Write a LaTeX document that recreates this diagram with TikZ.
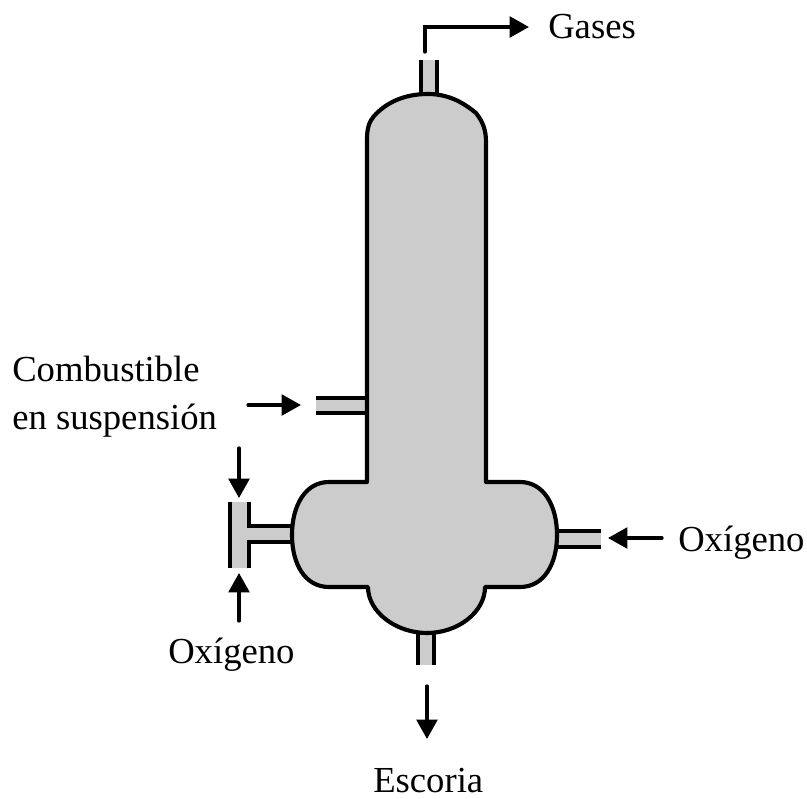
\documentclass[tikz,border=0pt]{standalone}
\usepackage{fontspec}
\setmainfont{Liberation Serif}
\usetikzlibrary{arrows.meta}
\definecolor{vesselgray}{gray}{0.8}
\tikzset{
  wall/.style={line width=3.1pt,line cap=butt,line join=miter},
  vessel/.style={wall,fill=vesselgray,line join=round},
  pipefill/.style={fill=vesselgray,draw=none},
  flow/.style={line width=2.5pt,line cap=round,line join=miter,-{Triangle[length=14.5pt,width=15.5pt]}},
  lab/.style={font=\fontsize{27.5pt}{32pt}\selectfont,inner sep=0pt,anchor=base west},
}
\begin{document}
\begin{tikzpicture}[x=0.75pt,y=-0.75pt]
\useasboundingbox (0,0) rectangle (807,799);
% pipes
\fill[pipefill] (421,60) rectangle (437,100);
\draw[wall] (421,60) -- (421,100) (437,60) -- (437,100);
\fill[pipefill] (316,398) rectangle (372,413);
\draw[wall] (316,398) -- (372,398) (316,413) -- (372,413);
\fill[pipefill] (552,531) rectangle (601,547);
\draw[wall] (552,531) -- (601,531) (552,547) -- (601,547);
\fill[pipefill] (418,628) rectangle (434,665);
\draw[wall] (418,628) -- (418,665) (434,628) -- (434,665);
\fill[pipefill] (230,502) rectangle (249,568) (249,526) rectangle (297,542);
\draw[wall] (230,502) -- (230,568);
\draw[wall] (249,502) -- (249,526) -- (297,526);
\draw[wall] (249,568) -- (249,542) -- (297,542);
% vessel
\draw[vessel]
  (367,140) .. controls (367,128) and (369,122) .. (374,116)
  .. controls (385,104) and (402,94) .. (428,94)
  .. controls (450,94) and (465,104) .. (476,113)
  .. controls (483,122) and (486,130) .. (486,142)
  -- (486,482) -- (520,482)
  .. controls (544,482) and (557,506) .. (557,535)
  .. controls (557,564) and (544,587) .. (520,587)
  -- (485,587)
  .. controls (485,612) and (458,633) .. (427,633)
  .. controls (396,633) and (368,612) .. (368,587)
  -- (329,587)
  .. controls (305,587) and (292,564) .. (292,535)
  .. controls (292,506) and (305,482) .. (329,482)
  -- (367,482) -- cycle;
% flow end points
\coordinate (gasS) at (425,52);
\coordinate (gasC) at (425,27);
\coordinate (gasE) at (529,27);
\coordinate (fuelS) at (248,405);
\coordinate (fuelE) at (301,405);
\coordinate (oaS) at (239,448);
\coordinate (oaE) at (239,498);
\coordinate (obS) at (239,621);
\coordinate (obE) at (239,573);
\coordinate (ocS) at (662,538);
\coordinate (ocE) at (608,538);
\coordinate (slagS) at (427,686);
\coordinate (slagE) at (427,739);
\draw[flow] (gasS) -- (gasC) -- (gasE);
\draw[flow] (fuelS) -- (fuelE);
\draw[flow] (oaS) -- (oaE);
\draw[flow] (obS) -- (obE);
\draw[flow] (ocS) -- (ocE);
\draw[flow] (slagS) -- (slagE);
% labels
\node[lab] (gases) at (548,39) {Gases};
\node[lab] (comb) at (12,381) {Combustible};
\node[lab] (susp) at (12,429) {en suspensión};
\node[lab] (oxr) at (678,551) {Oxígeno};
\node[lab] (oxl) at (168,663) {Oxígeno};
\node[lab] (esc) at (373,792.5) {Escoria};
\end{tikzpicture}
\end{document}
